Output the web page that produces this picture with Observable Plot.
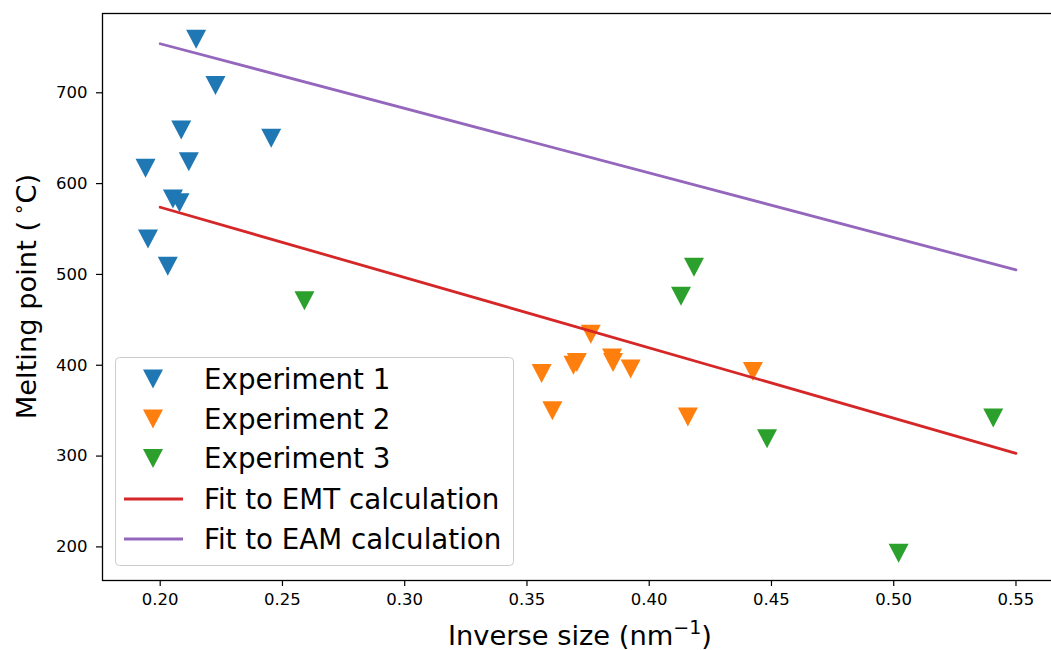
<!DOCTYPE html>
<html>
<head>
<meta charset="utf-8">
<script src="https://cdn.jsdelivr.net/npm/d3@7"></script>
<script src="https://cdn.jsdelivr.net/npm/@observablehq/plot@0.6"></script>
<style>
  html, body { margin: 0; padding: 0; background: white; overflow: hidden; }
  #wrap { position: relative; width: 1051px; height: 650px; overflow: hidden; }
  #chart { width: 1062px; }
  #overlay { position: absolute; left: 0; top: 0; pointer-events: none; }
  #chart svg { display: block; max-width: none !important; width: 1062px; height: 650px; }
</style>
</head>
<body>
<div id="wrap">
  <div id="chart"></div>
  <svg id="overlay" width="1051" height="650"></svg>
</div>
<script>
// ---- data ----
const seriesNames = ["Experiment 1", "Experiment 2", "Experiment 3"];
const seriesColors = ["#1f77b4", "#ff7f0e", "#2ca02c"];

const exp1X = [0.2147, 0.2226, 0.2086, 0.2454, 0.1940, 0.2117, 0.2052, 0.2079, 0.1950, 0.2031];
const exp1Y = [759, 708, 659, 650, 617, 624, 583, 579, 539, 509];

const exp2X = [0.3761, 0.3848, 0.3852, 0.3704, 0.3690, 0.3924, 0.3560, 0.3604, 0.4158, 0.4424];
const exp2Y = [434, 408, 403, 403, 400, 396, 391, 350, 343, 393];

const exp3X = [0.2590, 0.4183, 0.4130, 0.4482, 0.5020, 0.5407];
const exp3Y = [471, 508, 476, 319, 193, 342];

const fitNames = ["Fit to EMT calculation", "Fit to EAM calculation"];
const fitColors = ["#d62728", "#9467bd"];
const fitX = [0.20, 0.55];
const emtY = [574, 303];
const eamY = [754, 505];

const xTicks = [0.20, 0.25, 0.30, 0.35, 0.40, 0.45, 0.50, 0.55];
const yTicks = [200, 300, 400, 500, 600, 700];

const xLabel = "Inverse size (nm";
const yLabel = "Melting point (";

// ---- build tables ----
const points = [];
[[exp1X, exp1Y], [exp2X, exp2Y], [exp3X, exp3Y]].forEach(([xs, ys], i) => {
  xs.forEach((x, j) => points.push({series: seriesNames[i], x, y: ys[j]}));
});
const emt = fitX.map((x, i) => ({x, y: emtY[i]}));
const eam = fitX.map((x, i) => ({x, y: eamY[i]}));

// downward triangle symbol (matplotlib 'v')
const triDown = {
  draw(context, size) {
    const r = Math.sqrt(size / Math.PI);
    const h = r * 0.95;
    context.moveTo(0, h);
    context.lineTo(-r, -h);
    context.lineTo(r, -h);
    context.closePath();
  }
};

const FONT = "'DejaVu Sans', sans-serif";

const chart = Plot.plot({
  width: 1062,
  height: 650,
  marginLeft: 102,
  marginRight: 3,
  marginTop: 13,
  marginBottom: 70,
  style: {fontFamily: FONT, fontSize: "16.5px", color: "black", background: "white"},
  x: {domain: [0.1764, 0.5678]},
  y: {domain: [163, 787.3]},
  color: {domain: seriesNames, range: seriesColors},
  marks: [
    Plot.dot(points, {x: "x", y: "y", fill: "series", symbol: triDown, r: 10, stroke: "none"}),
    Plot.line(emt, {x: "x", y: "y", stroke: fitColors[0], strokeWidth: 2.8}),
    Plot.line(eam, {x: "x", y: "y", stroke: fitColors[1], strokeWidth: 2.8}),
    Plot.axisX({ticks: xTicks, tickFormat: d => d.toFixed(2), tickSize: 6, tickPadding: 7,
                label: null, fontSize: 16.5, strokeWidth: 1.2}),
    Plot.axisY({ticks: yTicks, tickFormat: d => String(d), tickSize: 6, tickPadding: 9,
                label: null, fontSize: 16.5, strokeWidth: 1.2}),
    Plot.frame({stroke: "black", strokeWidth: 1.3})
  ]
});
document.getElementById("chart").appendChild(chart);

// ---- overlay: axis labels and legend ----
const ov = d3.select("#overlay");

// x label
const xl = ov.append("text")
  .attr("x", 580).attr("y", 645)
  .attr("text-anchor", "middle")
  .style("font-family", FONT).style("font-size", "27.3px").attr("fill", "black");
xl.append("tspan").text(xLabel);
xl.append("tspan").attr("dy", -11).style("font-size", "19px").text("\u22121");
xl.append("tspan").attr("dy", 11).text(")");

// y label
const yl = ov.append("text")
  .attr("transform", "translate(36,296.5) rotate(-90)")
  .attr("text-anchor", "middle")
  .style("font-family", FONT).style("font-size", "27.3px").attr("fill", "black");
yl.append("tspan").text(yLabel + "\u2009");
yl.append("tspan").attr("dy", -11).style("font-size", "19px").text("\u2218");
yl.append("tspan").attr("dy", 11).text("C)");

// legend
const lg = ov.append("g");
lg.append("rect")
  .attr("x", 115.5).attr("y", 357.5).attr("width", 398).attr("height", 208).attr("rx", 4)
  .attr("fill", "white").attr("fill-opacity", 0.8)
  .attr("stroke", "#cccccc").attr("stroke-width", 1);

const rowCenters = [379, 419, 458.5, 499, 539];
const triPath = d3.symbol().type(triDown).size(Math.PI * 100)();
seriesNames.forEach((name, i) => {
  lg.append("path").attr("d", triPath)
    .attr("transform", `translate(153,${rowCenters[i]})`)
    .attr("fill", seriesColors[i]);
  lg.append("text").attr("x", 204).attr("y", rowCenters[i] + 9.5)
    .style("font-family", FONT).style("font-size", "27.7px").attr("fill", "black")
    .text(name);
});
fitNames.forEach((name, k) => {
  const cy = rowCenters[3 + k];
  lg.append("line").attr("x1", 124).attr("x2", 183).attr("y1", cy).attr("y2", cy)
    .attr("stroke", fitColors[k]).attr("stroke-width", 2.8);
  lg.append("text").attr("x", 204).attr("y", cy + 9.5)
    .style("font-family", FONT).style("font-size", "27.7px").attr("fill", "black")
    .text(name);
});
</script>
</body>
</html>
